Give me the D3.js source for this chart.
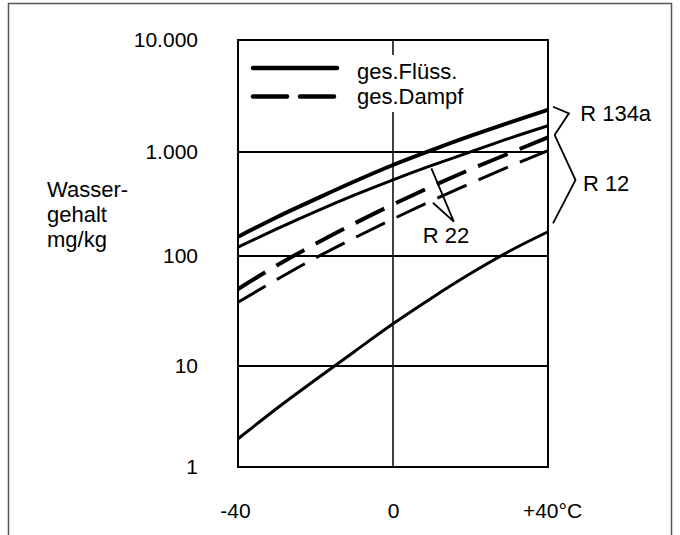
<!DOCTYPE html>
<html>
<head>
<meta charset="utf-8">
<script src="https://cdn.jsdelivr.net/npm/d3@7"></script>
<style>
  body { margin: 0; background: #fff; }
  svg { display: block; font-family: "Liberation Sans", Arial, sans-serif; }
</style>
</head>
<body>
<div id="chart"></div>
<script>
// Data (water content in mg/kg vs temperature in °C)
const temps = [-40, -30, -20, -10, 0, 10, 20, 30, 40];
const r134aLiquid = [153, 236, 352, 520, 750, 1040, 1390, 1830, 2380];
const r22Liquid = [122, 182, 267, 384, 540, 743, 1002, 1324, 1714];
const r134aVapour = [50, 82, 131, 205, 313, 467, 681, 971, 1352];
const r22Vapour = [38, 61, 96, 149, 227, 340, 500, 724, 1030];
const r12Liquid = [1.9, 3.8, 7.3, 13.5, 24.2, 41.6, 69.2, 111, 171];

const xTicks = [-40, 0, 40];
const xTickLabels = ['-40', '0', '+40°C'];
const yTicks = [1, 10, 100, 1000, 10000];
const yTickLabels = ['1', '10', '100', '1.000', '10.000'];
const yTitle = ['Wasser-', 'gehalt', 'mg/kg'];
const legendLabels = ['ges.Flüss.', 'ges.Dampf'];

function drawChart() {
    const svg = d3.select('#chart')
        .append('svg')
        .attr('width', 680)
        .attr('height', 535);

    // hand drawn decades are not quite even, so use a piecewise log scale
    const x = d3.scaleLinear().domain([-40, 40]).range([238, 548]);
    const y = d3.scaleLog().domain(yTicks).range([467, 366, 256, 152, 40]);

    // outer frame (left, top, right)
    svg.append('path')
        .attr('d', 'M8.5,535V3.5H671.5V535')
        .attr('fill', 'none')
        .attr('stroke', '#555')
        .attr('stroke-width', 1.5);

    // grid
    const grid = svg.append('g').attr('stroke', '#000').attr('fill', 'none');
    grid.selectAll('line.h')
        .data(yTicks.slice(1, -1))
        .join('line')
        .attr('class', 'h')
        .attr('x1', x(-40)).attr('x2', x(40))
        .attr('y1', d => y(d)).attr('y2', d => y(d))
        .attr('stroke-width', 2);
    grid.append('line')
        .attr('x1', x(0)).attr('x2', x(0))
        .attr('y1', y(10000)).attr('y2', y(1))
        .attr('stroke-width', 1.5);
    grid.append('rect')
        .attr('x', x(-40)).attr('y', y(10000))
        .attr('width', x(40) - x(-40))
        .attr('height', y(1) - y(10000))
        .attr('stroke-width', 2);

    // axes
    svg.append('g')
        .attr('transform', `translate(${x(-40)},0)`)
        .call(d3.axisLeft(y).tickValues(yTicks)
            .tickFormat((d, i) => yTickLabels[i])
            .tickSize(0).tickPadding(40))
        .call(g => g.select('.domain').remove())
        .selectAll('text')
        .style('font-family', '"Liberation Sans", Arial, sans-serif')
        .style('font-size', '21px')
        .attr('fill', '#000');

    svg.append('g')
        .attr('transform', `translate(0,${y(1)})`)
        .call(d3.axisBottom(x).tickValues(xTicks)
            .tickFormat((d, i) => xTickLabels[i])
            .tickSize(0).tickPadding(36))
        .call(g => g.select('.domain').remove())
        .selectAll('text')
        .style('font-family', '"Liberation Sans", Arial, sans-serif')
        .style('font-size', '21px')
        .attr('fill', '#000')
        .attr('dx', (d, i) => [-3, 0, 4][i]);

    // y axis title
    svg.append('text')
        .attr('font-size', 22)
        .selectAll('tspan')
        .data(yTitle)
        .join('tspan')
        .attr('x', 47)
        .attr('y', (d, i) => 197 + i * 25)
        .text(d => d);

    // curves
    const series = [
        { values: r134aLiquid, width: 4, dash: null },
        { values: r22Liquid, width: 3, dash: null },
        { values: r134aVapour, width: 4, dash: '32,13' },
        { values: r22Vapour, width: 3, dash: '32,13' },
        { values: r12Liquid, width: 3, dash: null }
    ];
    const line = d3.line()
        .x((d, i) => x(temps[i]))
        .y(d => y(d))
        .curve(d3.curveMonotoneX);

    svg.append('g')
        .selectAll('path')
        .data(series)
        .join('path')
        .attr('d', d => line(d.values))
        .attr('fill', 'none')
        .attr('stroke', '#000')
        .attr('stroke-width', d => d.width)
        .attr('stroke-dasharray', d => d.dash);

    // legend (white box behind text hides the 0 °C line)
    const legend = svg.append('g');
    legend.append('rect')
        .attr('x', 350).attr('y', 55)
        .attr('width', 122).attr('height', 57)
        .attr('fill', '#fff');
    legend.selectAll('line')
        .data(legendLabels)
        .join('line')
        .attr('x1', 253).attr('x2', 337)
        .attr('y1', (d, i) => 68 + i * 28.5)
        .attr('y2', (d, i) => 68 + i * 28.5)
        .attr('stroke', '#000')
        .attr('stroke-width', 4.5)
        .attr('stroke-linecap', 'round')
        .attr('stroke-dasharray', (d, i) => i ? '34,13' : null);
    legend.selectAll('text')
        .data(legendLabels)
        .join('text')
        .attr('x', 357)
        .attr('y', (d, i) => 79 + i * 25)
        .attr('font-size', 22)
        .text(d => d);

    // brackets and pointer, given in chart coordinates
    const notes = [
        [[41.3, 2537], [45.4, 2216], [41.7, 1419]],
        [[41.7, 1419], [47.1, 538], [41.3, 206]],
        [[9.9, 697], [15.7, 214], [10.3, 325]]
    ];
    svg.append('g')
        .selectAll('path')
        .data(notes)
        .join('path')
        .attr('d', d3.line().x(d => x(d[0])).y(d => y(d[1])))
        .attr('fill', 'none')
        .attr('stroke', '#000')
        .attr('stroke-width', 1.8);

    const labels = [
        { text: 'R 134a', t: 48.3, v: 2230 },
        { text: 'R 12', t: 49, v: 503 },
        { text: 'R 22', t: 7.7, v: 159 }
    ];
    svg.append('g')
        .selectAll('text')
        .data(labels)
        .join('text')
        .attr('x', d => x(d.t))
        .attr('y', d => y(d.v))
        .attr('dy', '0.36em')
        .attr('font-size', 22)
        .text(d => d.text);
}

document.addEventListener('DOMContentLoaded', drawChart);
</script>
</body>
</html>
